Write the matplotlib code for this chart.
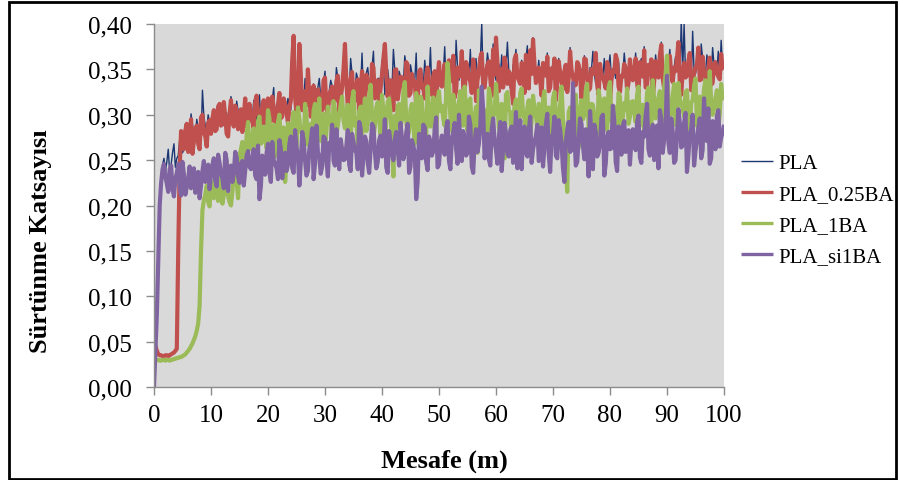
import numpy as np
import matplotlib
matplotlib.use("Agg")
import matplotlib.pyplot as plt
from matplotlib.ticker import FuncFormatter, MultipleLocator
from matplotlib.patches import Rectangle

# Friction coefficient readings, stored as value x 1000.
# "_a" lists hold readings at 0, 0.5, 1.0 ... 100 m,
# "_b" lists hold the readings taken in between (0.25, 0.75 ... 99.75 m).
pla_a = [
    0, 55, 200, 245,
    238, 262, 245, 268, 252,
    272, 258, 290, 266, 301, 272, 295, 283, 327, 288, 300,
    290, 306, 284, 312, 295, 303, 287, 320, 298, 315, 292, 305, 318, 296,
    302, 316, 294, 322, 306, 290, 318, 308, 330, 298, 324, 312, 303, 318,
    305, 325, 300, 330, 312, 340, 320, 306,
    334, 310, 340, 318, 348, 305, 338, 322, 352, 315, 335,
    345, 325, 362, 320, 346, 330, 368, 318, 352, 335, 370, 326, 340, 360, 322, 350, 336,
    372, 325, 348, 332, 365, 320, 355, 338, 368, 328, 346, 360, 334, 374, 340, 326, 358,
    345, 375, 332, 360, 350, 382, 338, 365, 342, 356, 372, 334, 362, 348, 401, 340, 368,
    352, 378, 338, 356, 366, 344, 380, 330, 355, 372, 346, 360, 335, 376, 350, 385, 342,
    360, 335, 352, 368, 340, 356, 330, 362, 346, 355, 336, 374, 345, 332, 358, 350, 365,
    338, 352, 370, 334, 356, 346, 362, 330, 366, 350, 340, 358, 336, 368, 348, 356,
    350, 368, 340, 362, 375, 345, 358, 335, 366, 352, 380, 342, 360, 372, 348, 364, 356,
    405, 400, 352, 368, 392, 345, 362, 378, 350, 366, 340, 374, 355, 370, 382, 360,
]
pla_b = [
    50, 120, 225, 252,
    248, 236, 258, 242,
    255, 270, 262, 280, 268, 290, 276, 285, 270, 298, 282, 292,
    285, 300, 292, 310, 288, 302, 296, 312, 290, 305, 298, 286, 308, 300,
    296, 310, 300, 292, 314, 304, 298, 316, 294, 308, 300, 318, 306, 310,
    330, 315, 318, 325, 312, 316, 320, 310,
    316, 330, 318, 335, 312, 326, 332, 320, 340, 322, 344,
    338, 326, 345, 322, 340, 330, 318, 346, 334, 352, 324, 340, 332, 355, 344, 336, 328,
    348, 322, 342, 335, 354, 326, 346, 338, 318, 350, 332, 342, 338, 326, 348, 342, 336,
    345, 332, 358, 340, 326, 352, 346, 334, 356, 342, 330, 350, 340, 360, 336, 348, 356,
    328, 346, 355, 340, 334, 352, 348, 332, 358, 344, 338, 352, 362, 334, 346, 354, 342,
    340, 355, 344, 330, 350, 358, 338, 348, 332, 354, 342, 348, 336, 356, 345, 338, 358,
    332, 350, 346, 336, 354, 342, 334, 352, 340, 348, 356, 330, 344, 350, 338, 346,
    348, 338, 356, 344, 335, 354, 360, 340, 350, 362, 342, 336, 356, 346, 352, 360,
    338, 348, 344, 358, 332, 348, 354, 340, 362, 345, 350, 338, 355, 348, 342, 352,
]

pla_025ba_a = [
    25, 40, 35, 34, 35, 34, 36, 38, 42,
    240, 268, 283, 259, 295, 271, 288, 262, 300, 276, 291,
    279, 305, 284, 312, 290, 298, 276, 316, 287, 303, 295, 281, 318, 292,
    300, 285, 321, 296, 310, 283, 318, 293, 307, 289, 324, 298, 312, 291,
    315, 387, 300, 378, 305, 326, 350, 298,
    332, 296, 320, 305, 341, 300, 327, 312, 337, 303, 330,
    378, 310, 340, 318, 333, 302, 348, 322, 336, 308, 352, 326, 314, 344, 378, 320, 338,
    305, 350, 328, 341, 312, 355, 324, 336, 309, 347, 330, 318, 352, 327, 343, 315, 358,
    331, 356, 318, 349, 365, 327, 342, 370, 322, 352, 336, 361, 315, 347, 368, 330, 355,
    340, 372, 385, 326, 351, 363, 334, 345, 312, 366, 338, 357, 324, 349, 371, 383, 335,
    352, 321, 346, 364, 330, 341, 316, 359, 337, 348, 325, 370, 342, 333, 355, 318, 362,
    340, 329, 351, 368, 322, 345, 336, 358, 314, 349, 366, 331, 343, 356, 327, 361,
    338, 362, 324, 350, 371, 333, 346, 318, 359, 341, 377, 329, 353, 365, 336, 348, 380,
    322, 357, 343, 368, 331, 352, 374, 339, 346, 320, 363, 335, 358, 342, 367, 350,
]
pla_025ba_b = [
    45, 36, 35, 34, 35, 35, 37, 40,
    150,
    282, 262, 290, 275, 257, 285, 268, 297, 280, 265, 294,
    296, 282, 309, 288, 314, 279, 301, 293, 310, 284, 306, 298, 287, 312,
    292, 314, 302, 287, 316, 299, 305, 320, 290, 311, 296, 318, 303, 308,
    360, 320, 312, 345, 318, 310, 322, 314,
    310, 328, 315, 338, 307, 322, 331, 316, 343, 318, 350,
    336, 322, 347, 315, 339, 328, 312, 344, 331, 356, 318, 338, 329, 362, 346, 335, 326,
    349, 317, 342, 333, 358, 321, 345, 337, 311, 350, 329, 341, 336, 322, 348, 340, 334,
    343, 328, 360, 337, 319, 352, 345, 330, 358, 341, 324, 350, 338, 363, 333, 346, 359,
    321, 344, 357, 339, 330, 354, 348, 327, 361, 342, 334, 352, 366, 329, 345, 356, 340,
    338, 357, 343, 326, 351, 362, 335, 347, 328, 355, 340, 349, 332, 358, 344, 336, 361,
    327, 350, 345, 333, 356, 341, 329, 353, 338, 347, 360, 325, 342, 351, 335, 346,
    347, 335, 358, 342, 330, 355, 361, 337, 349, 366, 340, 331, 357, 344, 352, 362,
    335, 348, 341, 359, 327, 346, 355, 338, 364, 343, 350, 333, 356, 346, 339, 352,
]

pla_1ba_a = [
    20, 30, 29, 30, 29, 30, 30, 31, 32, 33, 34, 36, 40, 45, 52, 62, 90,
    195, 212, 204, 226, 208, 218, 235, 202, 221, 210,
    200, 238, 226, 255, 270, 247, 292,
    262, 285, 250, 298, 270, 281, 305, 258, 289, 274, 300, 266, 226, 291,
    277, 303, 258, 296, 283, 312, 267, 290, 305, 272, 318, 286, 262, 309, 293, 315, 278, 300, 320,
    285, 311, 270, 326, 296, 304, 279, 318, 290, 333, 275, 308, 297, 322, 268, 314, 301,
    232, 283, 312, 295, 336, 277, 306, 290, 324, 271, 315, 300, 331, 287, 319, 274, 326,
    310, 288, 357, 296, 322, 275, 314, 301, 331, 283, 318, 248, 309, 327, 292, 305, 279,
    320, 298, 334, 286, 312, 252, 325, 303, 290, 317, 281, 329, 296, 308, 276, 321, 300,
    312, 285, 326, 297, 270, 318, 304, 288, 331, 279, 215, 308, 293, 322, 264, 316, 300,
    334, 286, 311, 275, 327, 295, 318, 283, 336, 302, 290, 324, 271, 313, 329, 298,
    315, 292, 331, 305, 281, 324, 310, 338, 296, 319, 286, 330, 365, 302, 321, 289, 335,
    312, 298, 327, 283, 316, 340, 305, 292, 329, 311, 348, 300, 318, 287, 334, 326,
]
pla_1ba_b = [
    30, 30, 29, 30, 30, 29, 30, 31, 32, 33, 35, 38, 42, 48, 56, 70, 150,
    206, 222, 199, 215, 230, 205, 224, 212, 238, 204,
    215, 231, 208, 262, 241, 278, 265,
    276, 258, 293, 268, 287, 263, 296, 280, 254, 292, 271, 286, 248, 279,
    290, 268, 308, 281, 262, 299, 286, 276, 312, 290, 271, 301, 282, 296, 270, 306, 288, 311, 294,
    302, 279, 316, 288, 265, 309, 295, 282, 321, 300, 287, 314, 278, 305, 293, 318, 270,
    299, 310, 286, 325, 294, 281, 312, 268, 302, 320, 290, 277, 308, 296, 283, 317, 304,
    296, 321, 340, 282, 309, 294, 326, 288, 302, 315, 279, 297, 258, 318, 306, 291, 329,
    284, 301, 313, 277, 296, 322, 305, 262, 310, 289, 324, 300, 283, 316, 294, 307, 285,
    299, 317, 283, 308, 292, 325, 277, 311, 296, 240, 303, 289, 318, 280, 307, 295, 327,
    285, 312, 298, 268, 316, 304, 287, 330, 293, 309, 281, 320, 297, 306, 290, 314,
    303, 322, 288, 311, 297, 330, 285, 316, 305, 326, 294, 345, 312, 300, 334, 290,
    318, 307, 325, 296, 313, 332, 288, 320, 304, 338, 297, 315, 309, 327, 301, 318,
]

pla_si1ba_a = [
    0, 80, 200, 240,
    232, 215, 244, 210, 236, 222, 248, 212, 230, 219, 241, 225, 208, 238, 226, 245,
    233, 252, 221, 247, 230, 258, 216, 244, 236, 253, 225, 249, 238, 260,
    240, 262, 229, 207, 255, 234, 268, 226, 250, 241, 272, 230, 258,
    245, 276, 236, 264, 222, 281, 250, 238, 270, 229, 288, 254, 243, 274, 232, 266, 249, 284, 240, 262,
    251, 283, 238, 270, 258, 292, 233, 276, 247, 263, 287, 241, 272, 254, 295, 236, 268, 250, 281, 244,
    274, 258, 290, 243, 266, 207, 279, 252, 286, 239, 270, 260, 297, 245,
    277, 256, 293, 240, 281, 263, 300, 249, 272, 258, 289, 236, 284, 268, 331, 252, 279,
    244, 296, 261, 275, 238, 291, 257, 283, 247, 303, 265, 240, 287, 254, 298, 262, 277,
    249, 286, 264, 301, 237, 279, 255, 294, 268, 226, 283, 259, 335, 244, 272, 290, 251,
    266, 304, 240, 281, 258, 297, 233, 275, 262, 310, 248, 287, 256, 293, 270, 245,
    284, 261, 299, 247, 276, 312, 255, 289, 268, 241, 295, 273, 343, 258, 282, 250, 306,
    264, 291, 237, 279, 300, 260, 286, 252, 318, 271, 246, 293, 262, 305, 275, 289,
]
pla_si1ba_b = [
    40, 140, 225, 246,
    224, 240, 218, 229, 246, 211, 234, 220, 243, 227, 214, 237, 222, 249, 231, 218,
    245, 228, 256, 235, 219, 250, 241, 226, 259, 232, 246, 222, 255, 243,
    251, 233, 266, 221, 244, 258, 237, 270, 246, 229, 263, 252, 238,
    268, 241, 283, 255, 247, 272, 233, 262, 285, 246, 259, 235, 276, 251, 269, 289, 244, 258, 273, 250,
    266, 245, 279, 261, 240, 285, 255, 271, 236, 290, 259, 248, 277, 265, 242, 282, 257, 273, 262, 291,
    251, 280, 236, 272, 258, 226, 266, 289, 248, 276, 255, 284, 242, 268,
    262, 285, 249, 273, 291, 246, 266, 282, 255, 298, 243, 270, 259, 288, 305, 266, 251,
    284, 272, 246, 292, 263, 279, 254, 287, 268, 241, 294, 276, 258, 283, 247, 270, 289,
    268, 243, 290, 257, 275, 298, 252, 284, 241, 270, 292, 261, 279, 248, 296, 266, 284,
    232, 275, 289, 254, 268, 300, 246, 281, 263, 293, 238, 276, 288, 259, 283, 271,
    270, 292, 253, 281, 299, 262, 276, 250, 288, 305, 258, 283, 269, 296, 247, 278,
    291, 266, 302, 255, 285, 244, 273, 296, 261, 281, 307, 252, 277, 298, 265, 280,
]

series_names = ["PLA", "PLA_0.25BA", "PLA_1BA", "PLA_si1BA"]
series_a = [pla_a, pla_025ba_a, pla_1ba_a, pla_si1ba_a]
series_b = [pla_b, pla_025ba_b, pla_1ba_b, pla_si1ba_b]
series_colors = ["#1c3773", "#c0504d", "#9bbb59", "#8064a2"]
series_widths = [1.0, 3.0, 3.0, 3.0]

x_ticks = [0, 10, 20, 30, 40, 50, 60, 70, 80, 90, 100]

# Sliding distance (m) at every reading
distance = np.arange(0, 100.001, 0.25)


def merge_readings(a, b):
    y = np.empty(len(a) + len(b))
    y[0::2] = a
    y[1::2] = b
    return y / 1000.0


plt.rcParams["font.family"] = ["Liberation Serif", "DejaVu Serif"]

fig = plt.figure(figsize=(8.99, 4.81), dpi=100)
ax = fig.add_axes([154 / 899, 1 - 388 / 481, 570 / 899, 363 / 481])
ax.set_facecolor("#d9d9d9")

handles = []
for i, (a, b, col, lw) in enumerate(zip(series_a, series_b, series_colors, series_widths)):
    y = merge_readings(a, b)
    h, = ax.plot(distance, y, color=col, lw=lw, zorder=2 + i,
                 solid_joinstyle="round", solid_capstyle="butt")
    handles.append(h)

ax.set_xlim(0, 100)
ax.set_ylim(0, 0.40)
ax.set_xticks(x_ticks)
ax.yaxis.set_major_locator(MultipleLocator(0.05))
ax.yaxis.set_major_formatter(FuncFormatter(lambda v, p: f"{v:.2f}".replace(".", ",")))

for side in ("top", "right"):
    ax.spines[side].set_visible(False)
for side in ("left", "bottom"):
    ax.spines[side].set_color("#8c8c8c")
    ax.spines[side].set_linewidth(1.0)
    ax.spines[side].set_zorder(10)

ax.tick_params(axis="both", direction="out", length=6, width=1.0, color="#8c8c8c",
               labelsize=18, labelcolor="black")
ax.tick_params(axis="y", pad=10)
ax.tick_params(axis="x", pad=6)

fig.text(41 / 899, 1 - 241 / 481, "Sürtünme Katsayısı", rotation=90,
         ha="center", va="center", fontsize=19, fontweight="bold")
fig.text(444 / 899, 1 - 461 / 481, "Mesafe (m)", ha="center", va="center",
         fontsize=19, fontweight="bold")

leg = fig.legend(handles, series_names, loc="center left",
                 bbox_to_anchor=(741 / 899, 1 - 211 / 481), frameon=False,
                 fontsize=15, handlelength=1.55, handletextpad=0.25,
                 labelspacing=0.55, borderpad=0, borderaxespad=0)
for lh in leg.get_lines()[1:]:
    lh.set_linewidth(2.4)

# Outer frame around the whole chart
fig.patches.append(Rectangle((9 / 899, 1.5 / 481), 887 / 899, 477 / 481,
                             transform=fig.transFigure, fill=False,
                             edgecolor="black", linewidth=2.0))

fig.savefig("out.png", dpi=100)
